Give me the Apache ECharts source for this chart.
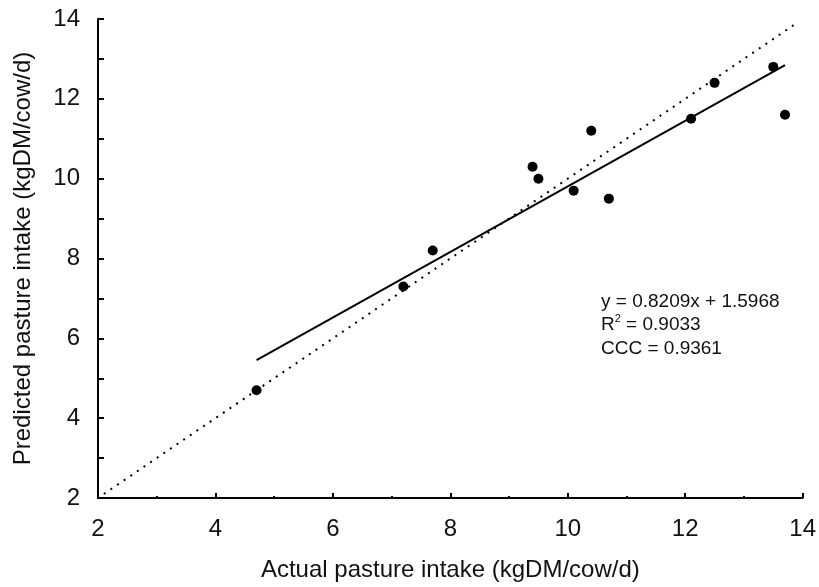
<!DOCTYPE html>
<html>
<head>
<meta charset="utf-8">
<script src="https://cdn.jsdelivr.net/npm/echarts@6/dist/echarts.min.js"></script>
<style>
  html, body { margin: 0; padding: 0; background: #fff; }
  #chart { width: 819px; height: 587px; }
</style>
</head>
<body>
<div id="chart"></div>
<script>
// Observed vs. predicted pasture intake (kgDM/cow/d)
const actualIntake    = [4.7, 7.2, 7.7, 9.4, 9.5, 10.1, 10.4, 10.7, 12.1, 12.5, 13.5, 13.7];
const predictedIntake = [4.7, 7.3, 8.2, 10.3, 10.0, 9.7, 11.2, 9.5, 11.5, 12.4, 12.8, 11.6];

// Fitted regression and agreement statistics
const slope = 0.8209;
const intercept = 1.5968;
const rSquared = '0.9033';
const ccc = '0.9361';

// Range of the 1:1 reference line
const identityRange = [2.1, 13.9];

const axisMin = 2, axisMax = 14;
const font = "'Liberation Sans', Arial, Helvetica, sans-serif";

const xLo = Math.min(...actualIntake), xHi = Math.max(...actualIntake);
const fitLine = [[xLo, slope * xLo + intercept], [xHi, slope * xHi + intercept]];
const identityLine = identityRange.map(v => [v, v]);

const chart = echarts.init(document.getElementById('chart'), null, { renderer: 'canvas' });

chart.setOption({
  backgroundColor: '#ffffff',
  animation: false,
  grid: { left: 98, right: 15, top: 19, bottom: 89, containLabel: false },
  xAxis: {
    type: 'value',
    min: axisMin, max: axisMax, interval: 2,
    name: 'Actual pasture intake (kgDM/cow/d)',
    nameLocation: 'middle',
    nameGap: 60,
    nameTextStyle: { fontFamily: font, fontSize: 24, color: '#111' },
    axisLine: { show: true, onZero: false, lineStyle: { color: '#000', width: 2 } },
    axisTick: { show: true, inside: true, length: 5, lineStyle: { color: '#000', width: 2 } },
    minorTick: { show: true, splitNumber: 2, length: 2, lineStyle: { color: '#000', width: 2 } },
    axisLabel: { fontFamily: font, fontSize: 24, color: '#111', margin: 19 },
    splitLine: { show: false }
  },
  yAxis: {
    type: 'value',
    min: axisMin, max: axisMax, interval: 1,
    name: 'Predicted pasture intake (kgDM/cow/d)',
    nameLocation: 'middle',
    nameGap: 63,
    nameTextStyle: { fontFamily: font, fontSize: 24, color: '#111' },
    axisLine: { show: true, onZero: false, lineStyle: { color: '#000', width: 2 } },
    axisTick: { show: true, inside: true, length: 6, lineStyle: { color: '#000', width: 2 } },
    axisLabel: {
      fontFamily: font, fontSize: 24, color: '#111', margin: 18,
      formatter: v => (v % 2 === 0 ? String(v) : '')
    },
    splitLine: { show: false }
  },
  series: [
    {
      name: '1:1',
      type: 'line',
      data: identityLine,
      symbol: 'none',
      lineStyle: { color: '#000', width: 2, type: [2, 6] },
      z: 2
    },
    {
      name: 'fit',
      type: 'line',
      data: fitLine,
      symbol: 'none',
      lineStyle: { color: '#000', width: 2, type: 'solid' },
      z: 3
    },
    {
      name: 'intake',
      type: 'scatter',
      data: actualIntake.map((x, i) => [x, predictedIntake[i]]),
      symbol: 'circle',
      symbolSize: 10,
      itemStyle: { color: '#000', opacity: 1 },
      z: 4
    }
  ],
  graphic: [
    {
      type: 'text',
      left: 601,
      top: 292,
      style: {
        text: '{n|y = ' + slope.toFixed(4) + 'x + ' + intercept.toFixed(4) + '}\n' +
              '{n|R}{sup|2}{n| = ' + rSquared + '}\n' +
              '{n|CCC = ' + ccc + '}',
        fill: '#111',
        rich: {
          n: { fontFamily: font, fontSize: 19, lineHeight: 23.5, fill: '#111' },
          sup: { fontFamily: font, fontSize: 11, lineHeight: 23.5, verticalAlign: 'top', padding: [0, 0, 8, 0], fill: '#111' }
        }
      }
    }
  ]
});
</script>
</body>
</html>
